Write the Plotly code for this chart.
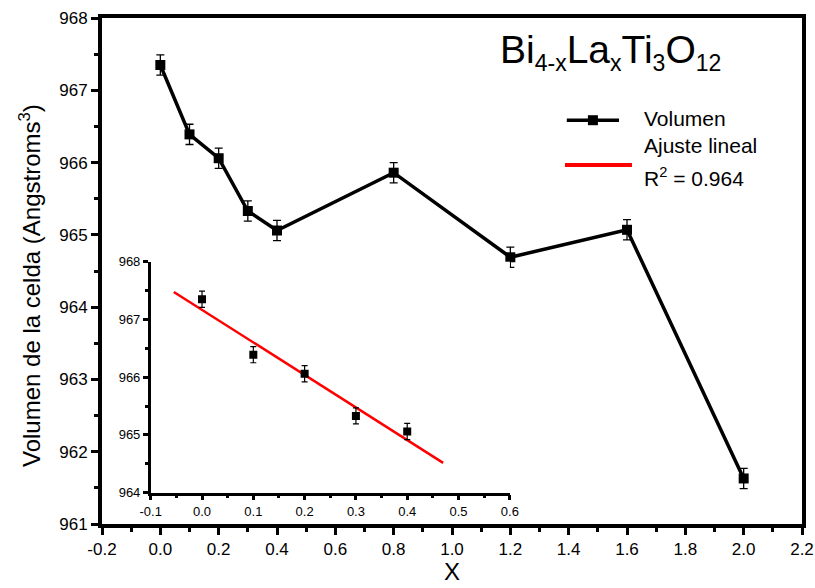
import numpy as np
import plotly.graph_objects as go

# ---------------- data ----------------
x_vals = [0.0, 0.1, 0.2, 0.3, 0.4, 0.8, 1.2, 1.6, 2.0]
volumen = [967.35, 966.39, 966.06, 965.33, 965.06, 965.86, 964.69, 965.07, 961.63]
volumen_err = [0.14, 0.14, 0.14, 0.14, 0.14, 0.14, 0.14, 0.14, 0.14]

x_inset = [0.0, 0.1, 0.2, 0.3, 0.4]
v_inset = [967.35, 966.39, 966.06, 965.33, 965.06]
v_inset_err = [0.14, 0.14, 0.14, 0.14, 0.14]
fit_x_range = [-0.055, 0.47]

main_xticks = [-0.2, 0.0, 0.2, 0.4, 0.6, 0.8, 1.0, 1.2, 1.4, 1.6, 1.8, 2.0, 2.2]
main_xticktext = ["-0.2", "0.0", "0.2", "0.4", "0.6", "0.8", "1.0", "1.2", "1.4", "1.6", "1.8", "2.0", "2.2"]
main_xminor = [-0.1, 0.1, 0.3, 0.5, 0.7, 0.9, 1.1, 1.3, 1.5, 1.7, 1.9, 2.1]
main_yticks = [961, 962, 963, 964, 965, 966, 967, 968]
main_yminor = [961.5, 962.5, 963.5, 964.5, 965.5, 966.5, 967.5]

inset_xticks = [-0.1, 0.0, 0.1, 0.2, 0.3, 0.4, 0.5, 0.6]
inset_xticktext = ["-0.1", "0.0", "0.1", "0.2", "0.3", "0.4", "0.5", "0.6"]
inset_xminor = [-0.05, 0.05, 0.15, 0.25, 0.35, 0.45, 0.55]
inset_yticks = [964, 965, 966, 967, 968]
inset_yminor = [964.5, 965.5, 966.5, 967.5]

# linear fit
coef = np.polyfit(x_inset, v_inset, 1)
fit_x = np.array(fit_x_range)
fit_y = np.polyval(coef, fit_x)

FONT = "Liberation Sans, Arial, sans-serif"

fig = go.Figure()

fig.add_trace(go.Scatter(
    x=x_vals, y=volumen, mode="lines+markers",
    line=dict(color="black", width=3.5),
    marker=dict(symbol="square", size=10, color="black"),
    error_y=dict(type="data", array=volumen_err, color="black", thickness=1.3, width=4),
    xaxis="x", yaxis="y", showlegend=False))

fig.add_trace(go.Scatter(
    x=fit_x, y=fit_y, mode="lines",
    line=dict(color="red", width=2.5),
    xaxis="x2", yaxis="y2", showlegend=False))

fig.add_trace(go.Scatter(
    x=x_inset, y=v_inset, mode="markers",
    marker=dict(symbol="square", size=8, color="black"),
    error_y=dict(type="data", array=v_inset_err, color="black", thickness=1.2, width=3),
    xaxis="x2", yaxis="y2", showlegend=False))

common = dict(showgrid=False, zeroline=False, linecolor="black", ticks="outside",
              tickcolor="black", showline=True, automargin=False)

fig.update_layout(
    width=815, height=588,
    margin=dict(l=102, r=13, t=18, b=64),
    plot_bgcolor="white", paper_bgcolor="white",
    font=dict(family=FONT, color="black"),
    xaxis=dict(range=[-0.2, 2.2], tickmode="array", tickvals=main_xticks, ticktext=main_xticktext,
               linewidth=4, tickwidth=3, ticklen=7, mirror=True,
               tickfont=dict(size=17, family=FONT),
               minor=dict(tickmode="array", tickvals=main_xminor, ticks="outside", ticklen=4,
                          tickwidth=3, tickcolor="black"),
               **common),
    yaxis=dict(range=[961, 968], tickmode="array", tickvals=main_yticks,
               linewidth=4, tickwidth=3, ticklen=7, mirror=True,
               tickfont=dict(size=17, family=FONT),
               minor=dict(tickmode="array", tickvals=main_yminor, ticks="outside", ticklen=4,
                          tickwidth=3, tickcolor="black"),
               **common),
    xaxis2=dict(domain=[0.0696, 0.5826], anchor="y2", range=[-0.1, 0.6], tickmode="array",
                tickvals=inset_xticks, ticktext=inset_xticktext,
                linewidth=2.5, tickwidth=2.5, ticklen=5,
                tickfont=dict(size=13, family=FONT),
                minor=dict(tickmode="array", tickvals=inset_xminor, ticks="outside", ticklen=3,
                           tickwidth=2.5, tickcolor="black"),
                **common),
    yaxis2=dict(domain=[0.0619, 0.5184], anchor="x2", range=[964, 968], tickmode="array",
                tickvals=inset_yticks,
                linewidth=2.5, tickwidth=2.5, ticklen=5,
                tickfont=dict(size=13, family=FONT),
                minor=dict(tickmode="array", tickvals=inset_yminor, ticks="outside", ticklen=3,
                           tickwidth=2.5, tickcolor="black"),
                **common),
)

# Axis titles as annotations
fig.add_annotation(
    xref="paper", yref="paper", x=(30 - 102) / 700, y=(524 - 286) / 506,
    xanchor="center", yanchor="middle", textangle=-90,
    text="Volumen de la celda (Angstroms<sup>3</sup>)", showarrow=False,
    font=dict(size=24, family=FONT, color="black"))
fig.add_annotation(
    xref="paper", yref="paper", x=0.5, y=(524 - 587) / 506,
    xanchor="center", yanchor="bottom",
    text="X", showarrow=False, font=dict(size=24, family=FONT, color="black"))

# Title annotation
sub = '<sub><span style="font-size:23px">{}</span></sub>'
fig.add_annotation(
    xref="paper", yref="paper", x=0.5657, y=0.985, xanchor="left", yanchor="top",
    text="Bi" + sub.format("4-x") + "La" + sub.format("x") + "Ti" + sub.format("3") + "O" + sub.format("12"),
    showarrow=False, font=dict(size=39, family=FONT, color="black"))

# Manual legend
fig.add_shape(type="line", xref="paper", yref="paper", x0=0.664, x1=0.7386, y0=0.798, y1=0.798,
              line=dict(color="black", width=3.5))
fig.add_shape(type="rect", xref="paper", yref="paper", xsizemode="pixel", ysizemode="pixel",
              xanchor=0.7013, yanchor=0.798, x0=-5, x1=5, y0=-5, y1=5,
              fillcolor="black", line=dict(width=0))
fig.add_shape(type="line", xref="paper", yref="paper", x0=0.6614, x1=0.7571, y0=0.7095, y1=0.7095,
              line=dict(color="red", width=4))

for txt, ypx in [("Volumen", 119), ("Ajuste lineal", 145.5), ("R<sup>2</sup> = 0.964", 177.5)]:
    fig.add_annotation(xref="paper", yref="paper", x=(641.7 - 102) / 700, y=(524 - ypx) / 506,
                       xanchor="left", yanchor="middle", text=txt, showarrow=False,
                       font=dict(size=21, family=FONT, color="black"))

fig.write_html("out.html")
